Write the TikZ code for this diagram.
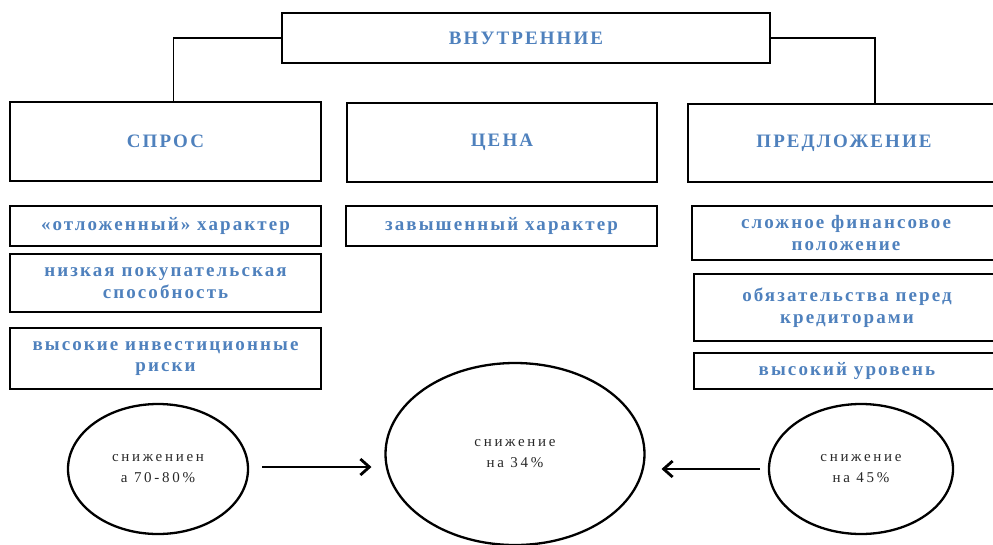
\documentclass[tikz,border=0pt]{standalone}
\usepackage{fontspec}
\setmainfont{Liberation Serif}
\newfontfamily\boxfont[LetterSpace=11]{Liberation Serif}
\newfontfamily\ovalfont[LetterSpace=18]{Liberation Serif}
\usetikzlibrary{arrows.meta,shapes.geometric}
\definecolor{labelblue}{RGB}{79,129,189}
\definecolor{ovaltext}{RGB}{40,40,40}
\tikzset{
	factorbox/.style={draw, line width=2.6pt, anchor=north west, inner sep=0pt, outer sep=0pt,
		align=center, text=labelblue, font=\boxfont\bfseries\fontsize{19}{21.5}\selectfont},
	oval/.style={draw, ellipse, line width=2.3pt, inner sep=0pt, outer sep=0pt,
		align=center, text=ovaltext, font=\ovalfont\fontsize{15}{21}\selectfont},
	link/.style={line width=1.5pt},
	flow/.style={line width=2.8pt, -{Straight Barb[length=9pt,width=16pt,line width=2.8pt]}}
}

\begin{document}
\begin{tikzpicture}[x=1pt, y=-1pt]
		%%%%% START %%%%%
		\clip (0, 0) rectangle (993, 544);
		\useasboundingbox (0, 0) rectangle (993, 544);
		
		\node[factorbox, minimum width=488, minimum height=50] (inner) at (282, 13) {ВНУТРЕННИЕ};
		
		\node[factorbox, minimum width=311, minimum height=79] (demand) at (10, 102) {СПРОС};
		\node[factorbox, minimum width=310, minimum height=79] (price) at (347, 103) {ЦЕНА};
		\node[factorbox, minimum width=312, minimum height=78] (supply) at (688, 104) {ПРЕДЛОЖЕНИЕ};
		
		\draw[link] (inner.west) -| ([xshift=8]demand.north);
		\draw[link] (inner.east) -| ([xshift=31]supply.north);
		
		% demand side
		\node[factorbox, minimum width=311, minimum height=40] (deferred) at (10, 206) {«отложенный» характер};
		\node[factorbox, minimum width=311, minimum height=58] (lowpower) at (10, 254) {низкая покупательская\\способность};
		\node[factorbox, minimum width=311, minimum height=61] (risks) at (10, 328) {высокие инвестиционные\\риски};
		
		% price side
		\node[factorbox, minimum width=311, minimum height=40] (inflated) at (346, 206) {завышенный характер};
		
		% supply side
		\node[factorbox, minimum width=308, minimum height=54] (finance) at (692, 206) {сложное финансовое\\положение};
		\node[factorbox, minimum width=306, minimum height=67] (debts) at (694, 274) {обязательства перед\\кредиторами};
		\node[factorbox, minimum width=306, minimum height=36] (level) at (694, 353) {высокий уровень};
		
		% falls
		\node[oval, minimum width=180, minimum height=130] (fallleft) at (158, 469) {снижениен\\а 70-80\%};
		\node[oval, minimum width=259, minimum height=182] (fallmid) at (515, 454) {снижение\\на 34\%};
		\node[oval, minimum width=184, minimum height=130] (fallright) at (861, 469) {снижение\\на 45\%};
		
		\draw[flow, shorten <=14, shorten >=14] ([yshift=2]fallleft.east) -- ([yshift=2]fallleft.east -| fallmid.west);
		\draw[flow, shorten <=9, shorten >=17] (fallright.west) -- (fallright.west -| fallmid.east);
		
		%%%%% END %%%%%
	\end{tikzpicture}
\end{document}
